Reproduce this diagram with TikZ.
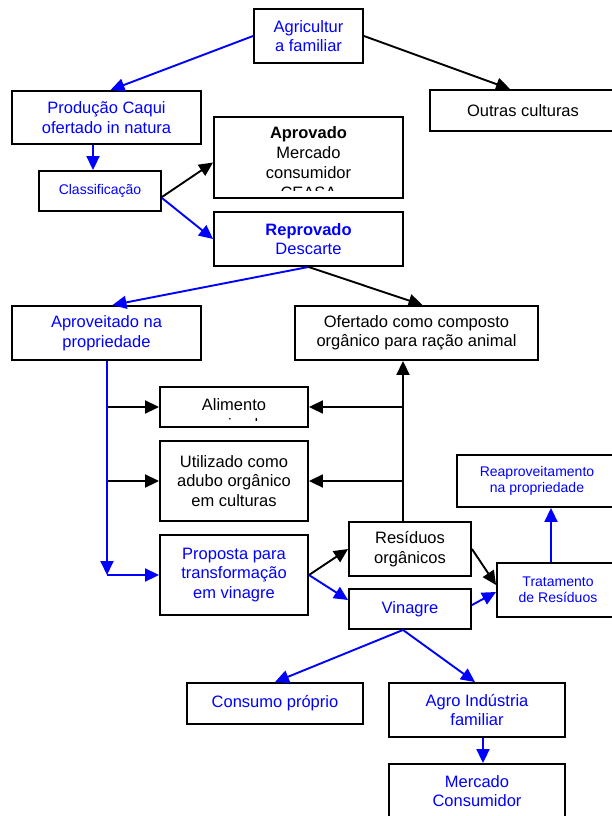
\documentclass[tikz,border=0pt]{standalone}
\usepackage{fontspec}
\setmainfont{Liberation Sans}
\usetikzlibrary{positioning, arrows.meta, calc}
\definecolor{AzulPuro}{RGB}{0, 0, 255}

\tikzset{
  caixa/.style={draw=black, line width=1.9pt, fill=white, inner sep=2pt, align=center,
    font=\fontsize{16.5}{19.5}\selectfont},
  caixapeq/.style={caixa, font=\fontsize{14}{16}\selectfont},
  azul/.style={text=AzulPuro},
  seta/.style={line width=1.9pt, -{Triangle[length=14pt,width=13pt]}},
}

\begin{document}
\begin{tikzpicture}[x=1pt, y=-1pt]
    \clip (0,0) rectangle (612,816);

    % Topo
    \node[caixa, azul, minimum width=109pt, minimum height=54pt] (agri) at (308.5,36) {Agricultur\\a familiar};
    \node[caixa, azul, minimum width=189pt, minimum height=53pt] (prod) at (106.5,117.5) {Produção Caqui\\ofertado in natura};
    \node[caixa, minimum width=186pt, minimum height=41pt] (outras) at (523,110.5) {Outras culturas};
    \node[caixapeq, azul, minimum width=122pt, minimum height=40pt] (classif) at (100,191) {Classificação};
    \node[caixa, minimum width=189pt, minimum height=81pt] (aprov) at (308.5,157.5) {};
    \node[caixa, azul, minimum width=189pt, minimum height=54pt] (reprov) at (308.5,239) {\textbf{Reprovado}\\Descarte};

    % Meio
    \node[caixa, azul, minimum width=189pt, minimum height=54pt] (aproveit) at (106.5,333) {Aproveitado na\\propriedade};
    \node[caixa, minimum width=243pt, minimum height=54pt] (ofert) at (416.5,333) {Ofertado como composto\\orgânico para ração animal};
    \node[caixa, minimum width=148pt, minimum height=40pt] (alim) at (234,407) {};
    \node[caixa, minimum width=148pt, minimum height=80pt] (adubo) at (234,481) {Utilizado como\\adubo orgânico\\em culturas};
    \node[caixa, azul, minimum width=148pt, minimum height=80pt] (prop) at (234,575) {Proposta para\\transformação\\em vinagre};
    \node[caixa, minimum width=122pt, minimum height=54pt] (resid) at (410,549) {Resíduos\\orgânicos};
    \node[caixa, azul, minimum width=122pt, minimum height=40pt] (vinagre) at (410,609) {Vinagre};
    \node[caixapeq, azul, minimum width=160pt, minimum height=52pt] (reaprov) at (537,481) {Reaproveitamento\\na propriedade};
    \node[caixapeq, azul, minimum width=122pt, minimum height=54pt] (trat) at (558,590) {Tratamento\\de Resíduos};

    % Base
    \node[caixa, azul, minimum width=176pt, minimum height=41pt] (consumo) at (275,703.5) {Consumo próprio};
    \node[caixa, azul, minimum width=176pt, minimum height=54pt] (agro) at (477,710) {Agro Indústria\\familiar};
    \node[caixa, azul, minimum width=176pt, minimum height=54pt] (merc) at (477,791) {Mercado\\Consumidor};

    % Textos cortados
    \begin{scope}
      \clip (aprov.north west) rectangle (aprov.east |- 0,190.5);
      \node[anchor=north, inner sep=0pt, align=center, font=\fontsize{16.5}{20}\selectfont] (aprovtxt) at (308.5,126)
        {\textbf{Aprovado}\\Mercado\\consumidor\\CEASA};
    \end{scope}
    \begin{scope}
      \clip (alim.north west) rectangle (alim.east |- 0,420.5);
      \node[anchor=north, inner sep=0pt, align=center, font=\fontsize{16.5}{20}\selectfont] (alimtxt) at (234,398)
        {Alimento\\animal};
    \end{scope}

    % Setas do topo
    \draw[seta, AzulPuro] (agri.west) -- ([xshift=4pt]prod.north);
    \draw[seta] (agri.east) -- ([xshift=-13pt]outras.north);
    \draw[seta, AzulPuro] ([xshift=-7pt]classif.north |- prod.south) -- ([xshift=-7pt]classif.north);
    \draw[seta] ([yshift=-6pt]classif.east) -- ([yshift=-5pt]aprov.west);
    \draw[seta, AzulPuro] ([yshift=-7pt]classif.east) -- (reprov.west);
    \draw[seta, AzulPuro] (reprov.south) -- ([xshift=6pt]aproveit.north);
    \draw[seta] (reprov.south) -- ([xshift=6pt]ofert.north);

    % Ramos do aproveitamento
    \coordinate (desce) at ([xshift=0.5pt]aproveit.south);
    \coordinate (canto) at (desce |- prop.west);
    \draw[seta] (desce |- alim.west) -- (alim.west);
    \draw[seta] (desce |- adubo.west) -- (adubo.west);
    \draw[seta, AzulPuro] (desce) -- (canto);
    \draw[seta, AzulPuro] (canto) -- (prop.west);

    % Tronco dos residuos
    \coordinate (tronco) at ([xshift=-7pt]resid.north);
    \draw[seta] (tronco) -- (tronco |- ofert.south);
    \draw[seta] (tronco |- alim.east) -- (alim.east);
    \draw[seta] (tronco |- adubo.east) -- (adubo.east);

    % Vinagre e residuos
    \draw[seta] (prop.east) -- (resid.west);
    \draw[seta, AzulPuro] (prop.east) -- ([yshift=9pt]vinagre.west);
    \draw[seta] (resid.east) -- ([yshift=5pt]trat.west);
    \draw[seta, AzulPuro] ([yshift=4pt]vinagre.east) -- ([yshift=-2pt]trat.west);
    \draw[seta, AzulPuro] ([xshift=-7pt]trat.north) -- ([xshift=-7pt]trat.north |- reaprov.south);

    % Destino do vinagre
    \draw[seta, AzulPuro] ([xshift=-7pt]vinagre.south) -- (consumo.north);
    \draw[seta, AzulPuro] ([xshift=-7pt]vinagre.south) -- ([xshift=-2pt]agro.north);
    \draw[seta, AzulPuro] ([xshift=6pt]agro.south) -- ([xshift=6pt]merc.north);
\end{tikzpicture}
\end{document}
